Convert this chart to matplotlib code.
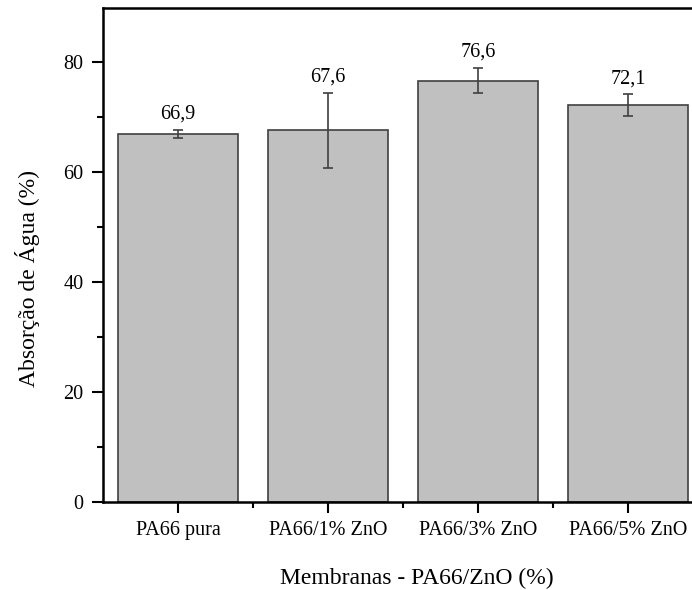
import matplotlib
matplotlib.use("Agg")
import matplotlib.pyplot as plt
from matplotlib.ticker import MultipleLocator, FixedLocator

categories = ["PA66 pura", "PA66/1% ZnO", "PA66/3% ZnO", "PA66/5% ZnO"]
absorcao = [66.9, 67.6, 76.6, 72.1]
erro = [0.8, 6.8, 2.3, 2.0]
rotulos = ["66,9", "67,6", "76,6", "72,1"]

plt.rcParams['font.family'] = ['Liberation Serif', 'DejaVu Serif']

fig = plt.figure(figsize=(6.92, 5.90), dpi=100)
ax = fig.add_axes([103/692, 88/590, 600/692, 494/590])

x = list(range(len(categories)))
ax.bar(x, absorcao, width=0.8, color='#c0c0c0', edgecolor='#404040', linewidth=1.2, zorder=2)
ax.errorbar(x, absorcao, yerr=erro, fmt='none', ecolor='#404040', elinewidth=1.2,
            capsize=3.5, capthick=1.2, zorder=3)

for xi, v, e, txt in zip(x, absorcao, erro, rotulos):
    ax.text(xi, v + e + 1.1, txt, ha='center', va='bottom', fontsize=14.5)

ax.set_xlim(-0.5, 3.5)
ax.set_ylim(0, 89.8)
ax.set_xticks(x)
ax.set_xticklabels(categories, fontsize=14.5)
ax.xaxis.set_minor_locator(FixedLocator([0.5, 1.5, 2.5]))
ax.yaxis.set_major_locator(MultipleLocator(20))
ax.yaxis.set_minor_locator(MultipleLocator(10))
ax.tick_params(axis='y', labelsize=14.5)

ax.tick_params(which='major', direction='out', length=8, width=1.5, pad=6)
ax.tick_params(which='minor', direction='out', length=4, width=1.5)
ax.tick_params(top=False, right=False, which='both')

for s in ['left', 'bottom', 'top', 'right']:
    ax.spines[s].set_linewidth(1.8)

ax.set_xlabel("Membranas - PA66/ZnO (%)", fontsize=17)
ax.set_ylabel("Absorção de Água (%)", fontsize=17)
ax.xaxis.set_label_coords(0.523, -0.134)
ax.yaxis.set_label_coords(-0.105, 0.453)

fig.savefig("out.png", dpi=100)
